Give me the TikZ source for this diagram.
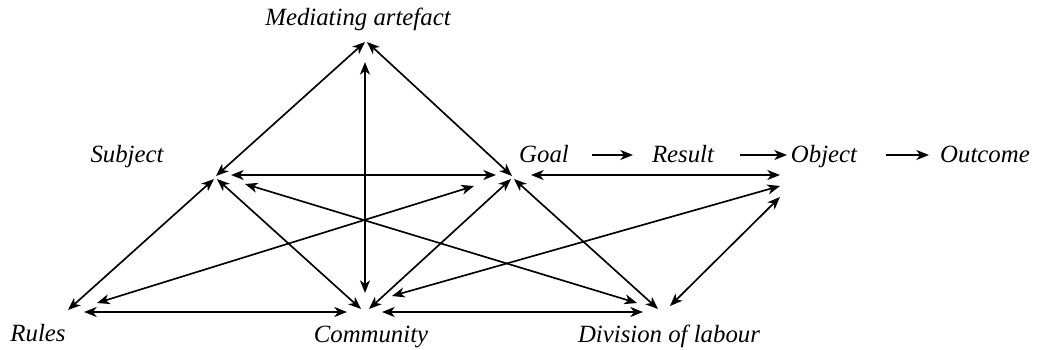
\documentclass[tikz,border=0pt]{standalone}
\usepackage{fontspec}
\setmainfont{Liberation Serif}
\usetikzlibrary{arrows.meta}
\begin{document}
\begin{tikzpicture}[x=0.75pt,y=-0.75pt,
  lbl/.style={anchor=base,inner sep=0pt,font=\fontsize{18.6}{22}\selectfont\itshape},
  tip/.style={Stealth[length=9.5pt,width=7.5pt,inset=2.8pt]},
  link/.style={line width=1.25pt,{Stealth[length=9.5pt,width=7.5pt,inset=2.8pt]}-{Stealth[length=9.5pt,width=7.5pt,inset=2.8pt]}},
  flow/.style={line width=1.25pt,-{Stealth[length=9.5pt,width=7.5pt,inset=2.8pt]}}]
\useasboundingbox (0,0) rectangle (1043,350);
% labels
\node[lbl] (med) at (358,25) {Mediating artefact};
\node[lbl] (subj) at (127,162) {Subject};
\node[lbl] (goal) at (544,162) {Goal};
\node[lbl] (res) at (683,162) {Result};
\node[lbl] (obj) at (824,162) {Object};
\node[lbl] (out) at (985,162) {Outcome};
\node[lbl] (rules) at (38,341) {Rules};
\node[lbl] (comm) at (371,342) {Community};
\node[lbl] (div) at (669,342) {Division of labour};
% endpoints
\coordinate (m1) at (365,42);
\coordinate (m2) at (367,42);
\coordinate (m3) at (365,62);
\coordinate (s1) at (216,176);
\coordinate (s2) at (231,175);
\coordinate (s3) at (245,184);
\coordinate (s4) at (214,179);
\coordinate (s5) at (217,179);
\coordinate (g1) at (512,176);
\coordinate (g2) at (496,175);
\coordinate (g3) at (474,186);
\coordinate (g4) at (511,179);
\coordinate (g5) at (514,179);
\coordinate (g6) at (531,175);
\coordinate (r1) at (68,310);
\coordinate (r2) at (97,303);
\coordinate (r3) at (84,312);
\coordinate (c1) at (365,293);
\coordinate (c2) at (361,309);
\coordinate (c3) at (369,309);
\coordinate (c4) at (347,312);
\coordinate (c5) at (382,312);
\coordinate (c6) at (392,296);
\coordinate (d1) at (637,303);
\coordinate (d2) at (658,309);
\coordinate (d3) at (643,312);
\coordinate (d4) at (670,306);
\coordinate (o1) at (780,186);
\coordinate (o2) at (780,197);
\coordinate (o3) at (780,175);
\coordinate (f1) at (592,155);
\coordinate (f2) at (633,155);
\coordinate (f3) at (740,155);
\coordinate (f4) at (787,155);
\coordinate (f5) at (886,155);
\coordinate (f6) at (929,155);
% connectors
\draw[link] (s1) -- (m1);
\draw[link] (g1) -- (m2);
\draw[link] (c1) -- (m3);
\draw[link] (s2) -- (g2);
\draw[link] (s3) -- (d1);
\draw[link] (r2) -- (g3);
\draw[link] (s4) -- (r1);
\draw[link] (s5) -- (c2);
\draw[link] (g4) -- (c3);
\draw[link] (g5) -- (d2);
\draw[link] (r3) -- (c4);
\draw[link] (c5) -- (d3);
\draw[link] (c6) -- (o1);
\draw[link] (d4) -- (o2);
\draw[link] (g6) -- (o3);
\draw[flow] (f1) -- (f2);
\draw[flow] (f3) -- (f4);
\draw[flow] (f5) -- (f6);
\end{tikzpicture}
\end{document}
